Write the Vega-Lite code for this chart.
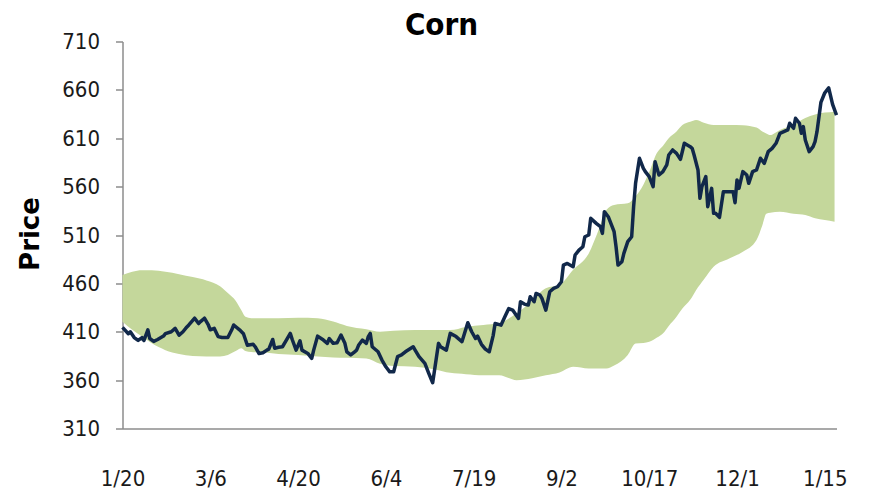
{
 "$schema": "https://vega.github.io/schema/vega-lite/v6.json",
 "width": 714, "height": 387,
 "autosize": {"type": "none"},
 "padding": {"left": 122.5, "top": 41.5, "right": 32.5, "bottom": 66},
 "background": "white",
 "config": {"view": {"stroke": null}, "font": "DejaVu Sans Condensed, Liberation Sans, sans-serif"},
 "title": {"text": "Corn", "fontSize": 31, "fontWeight": "bold", "font": "DejaVu Sans Condensed, Liberation Sans, sans-serif", "color": "#000000", "anchor": "middle", "baseline": "alphabetic", "offset": 0, "dx": -38, "dy": 35},
 "datasets": {
  "band": [
   {"date":"2010-01-20","upper":468.6,"lower":420.4},
   {"date":"2010-01-25","upper":472,"lower":412},
   {"date":"2010-01-30","upper":473.5,"lower":405},
   {"date":"2010-02-04","upper":473.5,"lower":398},
   {"date":"2010-02-11","upper":472,"lower":391},
   {"date":"2010-02-18","upper":469.5,"lower":387},
   {"date":"2010-02-25","upper":466.5,"lower":385},
   {"date":"2010-03-04","upper":463,"lower":384.5},
   {"date":"2010-03-11","upper":457,"lower":384.5},
   {"date":"2010-03-15","upper":450,"lower":386},
   {"date":"2010-03-19","upper":442,"lower":390},
   {"date":"2010-03-22","upper":432,"lower":393},
   {"date":"2010-03-24","upper":425.5,"lower":390},
   {"date":"2010-03-27","upper":424,"lower":389},
   {"date":"2010-04-03","upper":424,"lower":388.5},
   {"date":"2010-04-10","upper":424,"lower":387},
   {"date":"2010-04-20","upper":424.5,"lower":386},
   {"date":"2010-04-30","upper":424,"lower":384.5},
   {"date":"2010-05-08","upper":420.5,"lower":383.5},
   {"date":"2010-05-15","upper":416,"lower":383},
   {"date":"2010-05-25","upper":412.5,"lower":382.4},
   {"date":"2010-06-01","upper":410,"lower":377},
   {"date":"2010-06-08","upper":411,"lower":374.5},
   {"date":"2010-06-19","upper":411.8,"lower":373.8},
   {"date":"2010-06-29","upper":411.8,"lower":371},
   {"date":"2010-07-07","upper":411.7,"lower":367.5},
   {"date":"2010-07-15","upper":415,"lower":366.2},
   {"date":"2010-07-24","upper":417,"lower":365},
   {"date":"2010-08-01","upper":419,"lower":365},
   {"date":"2010-08-10","upper":429,"lower":360},
   {"date":"2010-08-18","upper":442,"lower":362},
   {"date":"2010-08-25","upper":455,"lower":365},
   {"date":"2010-09-01","upper":458.2,"lower":368},
   {"date":"2010-09-08","upper":474,"lower":373.8},
   {"date":"2010-09-16","upper":491,"lower":372},
   {"date":"2010-09-21","upper":515,"lower":372},
   {"date":"2010-09-25","upper":535.8,"lower":372},
   {"date":"2010-09-29","upper":541,"lower":375},
   {"date":"2010-10-06","upper":542.7,"lower":386},
   {"date":"2010-10-10","upper":550,"lower":397.9},
   {"date":"2010-10-14","upper":562,"lower":398.5},
   {"date":"2010-10-17","upper":575,"lower":399.6},
   {"date":"2010-10-21","upper":595,"lower":404},
   {"date":"2010-10-24","upper":602,"lower":408.2},
   {"date":"2010-10-27","upper":610,"lower":416},
   {"date":"2010-10-31","upper":617,"lower":425.5},
   {"date":"2010-11-03","upper":623.7,"lower":434},
   {"date":"2010-11-07","upper":627,"lower":443},
   {"date":"2010-11-10","upper":628.9,"lower":453},
   {"date":"2010-11-14","upper":626,"lower":464},
   {"date":"2010-11-19","upper":623.7,"lower":477.2},
   {"date":"2010-11-27","upper":623.7,"lower":485.8},
   {"date":"2010-12-04","upper":623.5,"lower":492.7},
   {"date":"2010-12-11","upper":621,"lower":504.8},
   {"date":"2010-12-14","upper":617,"lower":520},
   {"date":"2010-12-16","upper":615,"lower":532},
   {"date":"2010-12-18","upper":613.4,"lower":533},
   {"date":"2010-12-23","upper":618.6,"lower":534},
   {"date":"2010-12-30","upper":624,"lower":532},
   {"date":"2011-01-05","upper":631,"lower":530.6},
   {"date":"2011-01-10","upper":634.5,"lower":527.2},
   {"date":"2011-01-15","upper":636.5,"lower":525.5},
   {"date":"2011-01-20","upper":637.5,"lower":523.8}
  ],
  "price": [
   {"date":"2010-01-20","price":414.5},
   {"date":"2010-01-23","price":408},
   {"date":"2010-01-24","price":410},
   {"date":"2010-01-26","price":404},
   {"date":"2010-01-28","price":401},
   {"date":"2010-01-30","price":404},
   {"date":"2010-01-31","price":401},
   {"date":"2010-02-02","price":412},
   {"date":"2010-02-03","price":403},
   {"date":"2010-02-05","price":400},
   {"date":"2010-02-07","price":402},
   {"date":"2010-02-10","price":405.5},
   {"date":"2010-02-11","price":408},
   {"date":"2010-02-14","price":410},
   {"date":"2010-02-16","price":413.5},
   {"date":"2010-02-18","price":406.5},
   {"date":"2010-02-20","price":410},
   {"date":"2010-02-22","price":415},
   {"date":"2010-02-23","price":417},
   {"date":"2010-02-26","price":424},
   {"date":"2010-02-28","price":418.5},
   {"date":"2010-03-01","price":420.5},
   {"date":"2010-03-03","price":424},
   {"date":"2010-03-05","price":417},
   {"date":"2010-03-06","price":412},
   {"date":"2010-03-08","price":413.5},
   {"date":"2010-03-10","price":405},
   {"date":"2010-03-12","price":404},
   {"date":"2010-03-15","price":404},
   {"date":"2010-03-17","price":412},
   {"date":"2010-03-18","price":417},
   {"date":"2010-03-21","price":412},
   {"date":"2010-03-23","price":408},
   {"date":"2010-03-25","price":396},
   {"date":"2010-03-28","price":397},
   {"date":"2010-03-29","price":394.5},
   {"date":"2010-03-31","price":387.5},
   {"date":"2010-04-02","price":388.3},
   {"date":"2010-04-04","price":391},
   {"date":"2010-04-05","price":392},
   {"date":"2010-04-07","price":402},
   {"date":"2010-04-08","price":393},
   {"date":"2010-04-10","price":394},
   {"date":"2010-04-12","price":394.5},
   {"date":"2010-04-14","price":401.4},
   {"date":"2010-04-16","price":408.3},
   {"date":"2010-04-17","price":402},
   {"date":"2010-04-19","price":391},
   {"date":"2010-04-21","price":400.7},
   {"date":"2010-04-22","price":391},
   {"date":"2010-04-25","price":387.6},
   {"date":"2010-04-27","price":382.4},
   {"date":"2010-04-28","price":391},
   {"date":"2010-04-30","price":405.5},
   {"date":"2010-05-03","price":401.4},
   {"date":"2010-05-05","price":398},
   {"date":"2010-05-06","price":403},
   {"date":"2010-05-08","price":398},
   {"date":"2010-05-10","price":398.6},
   {"date":"2010-05-12","price":406.6},
   {"date":"2010-05-14","price":398},
   {"date":"2010-05-15","price":389.3},
   {"date":"2010-05-17","price":386},
   {"date":"2010-05-19","price":389.3},
   {"date":"2010-05-20","price":391},
   {"date":"2010-05-21","price":396},
   {"date":"2010-05-23","price":401.4},
   {"date":"2010-05-25","price":398},
   {"date":"2010-05-26","price":405},
   {"date":"2010-05-27","price":408.3},
   {"date":"2010-05-28","price":394.5},
   {"date":"2010-05-31","price":389.3},
   {"date":"2010-06-02","price":380.7},
   {"date":"2010-06-04","price":373.8},
   {"date":"2010-06-06","price":368.6},
   {"date":"2010-06-08","price":368.6},
   {"date":"2010-06-10","price":384.2},
   {"date":"2010-06-12","price":386},
   {"date":"2010-06-14","price":389.3},
   {"date":"2010-06-18","price":394.5},
   {"date":"2010-06-19","price":391},
   {"date":"2010-06-21","price":384.2},
   {"date":"2010-06-24","price":377.3},
   {"date":"2010-06-26","price":367},
   {"date":"2010-06-28","price":357.3},
   {"date":"2010-07-01","price":398},
   {"date":"2010-07-02","price":394.5},
   {"date":"2010-07-05","price":391},
   {"date":"2010-07-07","price":408.3},
   {"date":"2010-07-10","price":405},
   {"date":"2010-07-13","price":399.7},
   {"date":"2010-07-16","price":419.3},
   {"date":"2010-07-18","price":410},
   {"date":"2010-07-20","price":403},
   {"date":"2010-07-21","price":405.5},
   {"date":"2010-07-23","price":397},
   {"date":"2010-07-25","price":392},
   {"date":"2010-07-27","price":389.3},
   {"date":"2010-07-29","price":406},
   {"date":"2010-07-30","price":418.6},
   {"date":"2010-08-02","price":416.8},
   {"date":"2010-08-04","price":425.5},
   {"date":"2010-08-06","price":434},
   {"date":"2010-08-08","price":432.4},
   {"date":"2010-08-11","price":423.8},
   {"date":"2010-08-12","price":441},
   {"date":"2010-08-14","price":438.6},
   {"date":"2010-08-16","price":437.6},
   {"date":"2010-08-17","price":446.2},
   {"date":"2010-08-19","price":441},
   {"date":"2010-08-20","price":449.6},
   {"date":"2010-08-22","price":447.9},
   {"date":"2010-08-23","price":444.5},
   {"date":"2010-08-25","price":432.4},
   {"date":"2010-08-27","price":451.3},
   {"date":"2010-08-29","price":454.8},
   {"date":"2010-08-31","price":456.5},
   {"date":"2010-09-02","price":461.7},
   {"date":"2010-09-03","price":478.9},
   {"date":"2010-09-05","price":480.6},
   {"date":"2010-09-08","price":477.2},
   {"date":"2010-09-09","price":489.3},
   {"date":"2010-09-11","price":494.4},
   {"date":"2010-09-13","price":497.9},
   {"date":"2010-09-14","price":508.2},
   {"date":"2010-09-16","price":510},
   {"date":"2010-09-17","price":527.2},
   {"date":"2010-09-20","price":521.8},
   {"date":"2010-09-22","price":518.6},
   {"date":"2010-09-23","price":511.7},
   {"date":"2010-09-24","price":534.1},
   {"date":"2010-09-26","price":528.9},
   {"date":"2010-09-27","price":523.8},
   {"date":"2010-09-28","price":518.6},
   {"date":"2010-09-29","price":513.4},
   {"date":"2010-09-30","price":497.9},
   {"date":"2010-10-01","price":478.9},
   {"date":"2010-10-03","price":482.4},
   {"date":"2010-10-04","price":491},
   {"date":"2010-10-06","price":503.1},
   {"date":"2010-10-08","price":508.2},
   {"date":"2010-10-09","price":539.3},
   {"date":"2010-10-10","price":563.4},
   {"date":"2010-10-12","price":589.3},
   {"date":"2010-10-14","price":578.9},
   {"date":"2010-10-15","price":575.5},
   {"date":"2010-10-17","price":570.3},
   {"date":"2010-10-19","price":560},
   {"date":"2010-10-20","price":585.8},
   {"date":"2010-10-22","price":572},
   {"date":"2010-10-24","price":575.5},
   {"date":"2010-10-26","price":582.4},
   {"date":"2010-10-27","price":592.7},
   {"date":"2010-10-29","price":597.9},
   {"date":"2010-10-31","price":594.4},
   {"date":"2010-11-02","price":588.2},
   {"date":"2010-11-04","price":604.8},
   {"date":"2010-11-07","price":601.3},
   {"date":"2010-11-08","price":599.6},
   {"date":"2010-11-09","price":592.7},
   {"date":"2010-11-11","price":577.2},
   {"date":"2010-11-12","price":547.9},
   {"date":"2010-11-13","price":560},
   {"date":"2010-11-15","price":570.3},
   {"date":"2010-11-16","price":539.3},
   {"date":"2010-11-18","price":558.2},
   {"date":"2010-11-19","price":532.4},
   {"date":"2010-11-20","price":532.4},
   {"date":"2010-11-22","price":528.2},
   {"date":"2010-11-24","price":554.8},
   {"date":"2010-11-26","price":554.8},
   {"date":"2010-11-29","price":554.8},
   {"date":"2010-11-30","price":543.4},
   {"date":"2010-12-01","price":566.9},
   {"date":"2010-12-02","price":558.2},
   {"date":"2010-12-04","price":575.5},
   {"date":"2010-12-06","price":572},
   {"date":"2010-12-07","price":563.4},
   {"date":"2010-12-09","price":575.5},
   {"date":"2010-12-11","price":577.2},
   {"date":"2010-12-13","price":589.3},
   {"date":"2010-12-15","price":584.1},
   {"date":"2010-12-17","price":596.2},
   {"date":"2010-12-19","price":599.6},
   {"date":"2010-12-21","price":604.8},
   {"date":"2010-12-23","price":615.1},
   {"date":"2010-12-25","price":616.8},
   {"date":"2010-12-27","price":618.6},
   {"date":"2010-12-28","price":625.5},
   {"date":"2010-12-30","price":620.3},
   {"date":"2010-12-31","price":630.6},
   {"date":"2011-01-02","price":625.5},
   {"date":"2011-01-03","price":615.1},
   {"date":"2011-01-04","price":622},
   {"date":"2011-01-05","price":608.2},
   {"date":"2011-01-07","price":596.2},
   {"date":"2011-01-09","price":601.3},
   {"date":"2011-01-10","price":606.5},
   {"date":"2011-01-11","price":616.8},
   {"date":"2011-01-13","price":647},
   {"date":"2011-01-15","price":657},
   {"date":"2011-01-17","price":662},
   {"date":"2011-01-19","price":645},
   {"date":"2011-01-21","price":634}
  ]
 },
 "encoding": {
  "x": {
   "field": "date", "type": "temporal",
   "scale": {"type": "utc", "domain": [{"year": 2010, "month": 1, "date": 20, "utc": true}, {"year": 2011, "month": 1, "date": 21, "utc": true}]},
   "axis": {
    "title": null, "grid": false, "ticks": false, "format": "%-m/%-d",
    "values": [
     {"year": 2010, "month": 1, "date": 20, "utc": true},
     {"year": 2010, "month": 3, "date": 6, "utc": true},
     {"year": 2010, "month": 4, "date": 20, "utc": true},
     {"year": 2010, "month": 6, "date": 4, "utc": true},
     {"year": 2010, "month": 7, "date": 19, "utc": true},
     {"year": 2010, "month": 9, "date": 2, "utc": true},
     {"year": 2010, "month": 10, "date": 17, "utc": true},
     {"year": 2010, "month": 12, "date": 1, "utc": true},
     {"year": 2011, "month": 1, "date": 15, "utc": true}
    ],
    "labelPadding": 40, "labelFontSize": 22, "labelFont": "DejaVu Sans Condensed, Liberation Sans, sans-serif", "labelColor": "#1a1a1a",
    "labelOverlap": false, "labelFlush": false,
    "domainColor": "#8c8c8c", "domainWidth": 1.5
   }
  }
 },
 "layer": [
  {
   "data": {"name": "band"},
   "mark": {"type": "area", "color": "#c4d79b", "opacity": 1, "interpolate": "monotone"},
   "encoding": {
    "y": {
     "field": "upper", "type": "quantitative",
     "scale": {"domain": [310, 710], "nice": false, "zero": false},
     "axis": {
      "values": [310, 360, 410, 460, 510, 560, 610, 660, 710],
      "grid": false, "tickSize": 7, "tickColor": "#8c8c8c", "tickWidth": 1.5,
      "domainColor": "#8c8c8c", "domainWidth": 1.5,
      "labelPadding": 16, "labelFontSize": 22, "labelFont": "DejaVu Sans Condensed, Liberation Sans, sans-serif", "labelColor": "#1a1a1a",
      "title": "Price", "titleFont": "DejaVu Sans", "titleFontSize": 26, "titleFontWeight": "bold", "titleColor": "#000000",
      "titleAngle": 270, "titleX": -84.5, "titleY": 192, "titleBaseline": "alphabetic", "titleAlign": "center"
     }
    },
    "y2": {"field": "lower"}
   }
  },
  {
   "data": {"name": "price"},
   "mark": {"type": "line", "color": "#11284a", "strokeWidth": 3.5, "strokeJoin": "round"},
   "encoding": {
    "y": {"field": "price", "type": "quantitative"}
   }
  }
 ]
}
